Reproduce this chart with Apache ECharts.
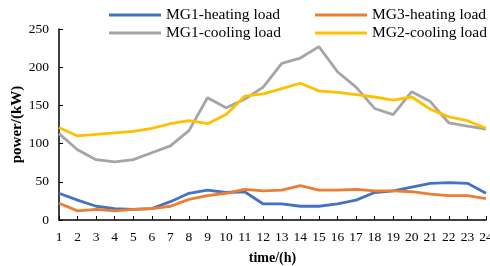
<!DOCTYPE html>
<html>
<head>
<meta charset="utf-8">
<script src="https://cdn.jsdelivr.net/npm/echarts@6/dist/echarts.min.js"></script>
<style>
  html, body { margin: 0; padding: 0; background: #fff; }
  #chart { width: 490px; height: 266px; }
</style>
</head>
<body>
<div id="chart"></div>
<script>
// hours 1..24
const hours = ['1', '2', '3', '4', '5', '6', '7', '8', '9', '10', '11', '12',
  '13', '14', '15', '16', '17', '18', '19', '20', '21', '22', '23', '24']

const mg1Heating = [35, 26, 18, 15, 14, 15, 24, 35, 39, 36, 37, 21, 21, 18, 18, 21, 26, 36, 38, 43, 48, 49, 48, 35]
const mg3Heating = [22, 12, 14, 12, 14, 15, 18, 27, 32, 35, 40, 38, 39, 45, 39, 39, 40, 38, 38, 37, 34, 32, 32, 28]
const mg1Cooling = [113, 92, 79, 76, 79, 88, 97, 117, 160, 147, 158, 174, 205, 212, 227, 194, 174, 146, 138, 168, 155, 127, 123, 119]
const mg2Cooling = [121, 110, 112, 114, 116, 120, 126, 130, 126, 138, 162, 165, 172, 179, 169, 167, 164, 161, 157, 161, 145, 135, 130, 120]

const yTicks = [0, 50, 100, 150, 200, 250]

const font = 'Liberation Serif, Times New Roman, serif'

const chart = echarts.init(document.getElementById('chart'))

function line(name, data, color) {
  return {
    name: name,
    type: 'line',
    data: data,
    symbol: 'none',
    smooth: false,
    itemStyle: { color: color },
    lineStyle: { color: color, width: 2.8 }
  }
}

// two legend columns, like the original
function legendCol(left, names) {
  return {
    orient: 'vertical',
    left: left,
    top: 2,
    itemWidth: 52,
    itemHeight: 14,
    itemGap: 2,
    icon: 'path://M0,6 L52,6 L52,9 L0,9 Z',
    textStyle: { fontFamily: font, fontSize: 15.5, color: '#000' },
    data: names
  }
}

chart.setOption({
  animation: false,
  textStyle: { fontFamily: font },
  legend: [
    legendCol(104, ['MG1-heating load', 'MG1-cooling load']),
    legendCol(310, ['MG3-heating load', 'MG2-cooling load'])
  ],
  grid: { left: 59, right: 4, top: 29, bottom: 46, containLabel: false, outerBoundsMode: 'none' },
  xAxis: {
    type: 'category',
    data: hours,
    boundaryGap: false,
    name: 'time/(h)',
    nameLocation: 'middle',
    nameGap: 31,
    nameMoveOverlap: false,
    nameTextStyle: { fontFamily: font, fontSize: 14, fontWeight: 'bold', color: '#000' },
    axisLine: { lineStyle: { color: '#000', width: 1.5 } },
    axisTick: { inside: true, length: 4, lineStyle: { color: '#000' } },
    axisLabel: { fontFamily: font, fontSize: 13.5, color: '#000', margin: 10 },
    splitLine: { show: false }
  },
  yAxis: {
    type: 'value',
    min: yTicks[0],
    max: yTicks[yTicks.length - 1],
    interval: 50,
    name: 'power/(kW)',
    nameLocation: 'middle',
    nameGap: 34,
    nameMoveOverlap: false,
    nameTextStyle: { fontFamily: font, fontSize: 15, fontWeight: 'bold', color: '#000' },
    axisLine: { show: true, lineStyle: { color: '#000', width: 1.5 } },
    axisTick: { show: true, inside: true, length: 4, lineStyle: { color: '#000' } },
    axisLabel: { fontFamily: font, fontSize: 13.5, color: '#000', margin: 10 },
    splitLine: { show: false }
  },
  series: [
    line('MG1-heating load', mg1Heating, '#4472C4'),
    line('MG3-heating load', mg3Heating, '#ED7D31'),
    line('MG1-cooling load', mg1Cooling, '#A5A5A5'),
    line('MG2-cooling load', mg2Cooling, '#FFC000')
  ]
})
</script>
</body>
</html>
